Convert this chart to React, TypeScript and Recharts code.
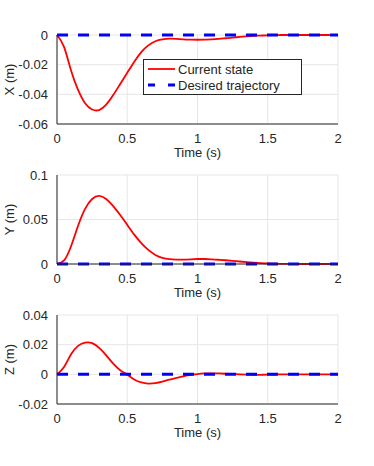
import React from 'react';
import { LineChart, Line, XAxis, YAxis, CartesianGrid } from 'recharts';

const TIME = [0, 0.05, 0.1, 0.15, 0.2, 0.25, 0.3, 0.35, 0.4, 0.45, 0.5, 0.55, 0.6, 0.65, 0.7, 0.75, 0.8, 0.85, 0.9, 0.95, 1, 1.05, 1.1, 1.15, 1.2, 1.25, 1.3, 1.35, 1.4, 1.45, 1.5, 1.55, 1.6, 1.65, 1.7, 1.75, 1.8, 1.85, 1.9, 1.95, 2];

const X_STATE = [0, -0.008, -0.024, -0.037, -0.046, -0.0502, -0.0506, -0.047, -0.0405, -0.033, -0.0255, -0.018, -0.0115, -0.007, -0.0042, -0.003, -0.0025, -0.0026, -0.0029, -0.0031, -0.0032, -0.0031, -0.0029, -0.0026, -0.0022, -0.0018, -0.0013, -0.0009, -0.0006, -0.0004, -0.0002, -0.0001, 0, 0, 0, 0, 0, 0, 0, 0, 0];

const Y_STATE = [0, 0.004, 0.02, 0.043, 0.062, 0.073, 0.0765, 0.073, 0.065, 0.055, 0.044, 0.033, 0.0235, 0.0158, 0.0102, 0.007, 0.0055, 0.005, 0.005, 0.0053, 0.0056, 0.0056, 0.0053, 0.0048, 0.0042, 0.0035, 0.0028, 0.0021, 0.0015, 0.001, 0.0006, 0.0003, 0.0002, 0.0001, 0, 0, 0, 0, 0, 0, 0];

const Z_STATE = [0, 0.005, 0.0135, 0.0192, 0.0214, 0.021, 0.0178, 0.0128, 0.0072, 0.0028, -0.0002, -0.0035, -0.0055, -0.0062, -0.0059, -0.0049, -0.0036, -0.0024, -0.0013, -0.0005, 0.0002, 0.0006, 0.0007, 0.0006, 0.0004, 0.0002, 0, -0.0002, -0.0003, -0.0003, -0.0002, -0.0001, 0, 0, 0, 0, 0, 0, 0, 0, 0];

const DESIRED = [0, 0, 0, 0, 0, 0, 0, 0, 0, 0, 0, 0, 0, 0, 0, 0, 0, 0, 0, 0, 0, 0, 0, 0, 0, 0, 0, 0, 0, 0, 0, 0, 0, 0, 0, 0, 0, 0, 0, 0, 0];

const X_TICKS = [0, 0.5, 1, 1.5, 2];
const X_Y_TICKS = [-0.06, -0.04, -0.02, 0];
const Y_Y_TICKS = [0, 0.05, 0.1];
const Z_Y_TICKS = [-0.02, 0, 0.02, 0.04];

const SERIES_NAMES = ['Current state', 'Desired trajectory'];

const FONT = '"Liberation Sans", Arial, Helvetica, sans-serif';
const TXT = '#262626';

const build = (vals: number[]) => TIME.map((t, i) => ({ t, cur: vals[i], des: DESIRED[i] }));

const fmt = (v: number) => String(+v.toFixed(3));

const LegendBox = () => (
  <svg width={160} height={37} style={{ position: 'absolute', left: 143, top: 59, display: 'block' }}>
    <rect x={0.5} y={0.5} width={158} height={35} fill="#fff" stroke={TXT} strokeWidth={1} />
    <line x1={5} y1={10} x2={32} y2={10} stroke="#ff0000" strokeWidth={1.8} />
    <text x={35} y={10} dy="0.35em" fontSize={13} fontFamily={FONT} fill={TXT}>{SERIES_NAMES[0]}</text>
    <line x1={5} y1={26} x2={32} y2={26} stroke="#0000ff" strokeWidth={3} strokeDasharray="7 13" />
    <text x={35} y={26} dy="0.35em" fontSize={13} fontFamily={FONT} fill={TXT}>{SERIES_NAMES[1]}</text>
  </svg>
);

type PanelProps = {
  top: number;
  vals: number[];
  yTicks: number[];
  yLabel: string;
};

const Panel = ({ top, vals, yTicks, yLabel }: PanelProps) => {
  const data = build(vals);
  return (
    <div style={{ position: 'absolute', left: 0, top, width: 374, height: 140 }}>
      <LineChart width={374} height={140} data={data} margin={{ top: 15, right: 36, left: 10, bottom: 6 }}>
        <CartesianGrid stroke="#e6e6e6" strokeWidth={1} />
        <XAxis
          dataKey="t"
          type="number"
          domain={[0, 2]}
          ticks={X_TICKS}
          tickFormatter={fmt}
          height={30}
          stroke={TXT}
          tickLine={false}
          tickMargin={4}
          tick={{ fill: TXT, fontSize: 13, fontFamily: FONT }}
          label={{
            content: (p: any) => {
              const vb = p.viewBox || {};
              return (
                <text x={vb.x + vb.width / 2} y={vb.y + 33} textAnchor="middle" fontSize={13} fontFamily={FONT} fill={TXT}>
                  Time (s)
                </text>
              );
            },
          }}
        />
        <YAxis
          type="number"
          domain={[yTicks[0], yTicks[yTicks.length - 1]]}
          ticks={yTicks}
          tickFormatter={fmt}
          width={47}
          stroke={TXT}
          tickLine={false}
          tickMargin={3}
          interval={0}
          tick={{ fill: TXT, fontSize: 13, fontFamily: FONT }}
          label={{
            content: (p: any) => {
              const vb = p.viewBox || {};
              const cx = 14;
              const cy = vb.y + vb.height / 2;
              return (
                <text x={cx} y={cy} textAnchor="middle" fontSize={13} fontFamily={FONT} fill={TXT} transform={`rotate(-90, ${cx}, ${cy})`}>
                  {yLabel}
                </text>
              );
            },
          }}
        />
        <Line dataKey="cur" name={SERIES_NAMES[0]} stroke="#ff0000" strokeWidth={1.8} dot={false} type="natural" isAnimationActive={false} />
        <Line dataKey="des" name={SERIES_NAMES[1]} stroke="#0000ff" strokeWidth={3} strokeDasharray="11 10" dot={false} type="linear" isAnimationActive={false} />
      </LineChart>
    </div>
  );
};

export default function App() {
  return (
    <div style={{ position: 'absolute', left: 0, top: 0, width: 374, height: 466, background: '#fff' }}>
      <Panel top={20} vals={X_STATE} yTicks={X_Y_TICKS} yLabel="X (m)" />
      <Panel top={160} vals={Y_STATE} yTicks={Y_Y_TICKS} yLabel="Y (m)" />
      <Panel top={300} vals={Z_STATE} yTicks={Z_Y_TICKS} yLabel="Z (m)" />
      <LegendBox />
    </div>
  );
}
